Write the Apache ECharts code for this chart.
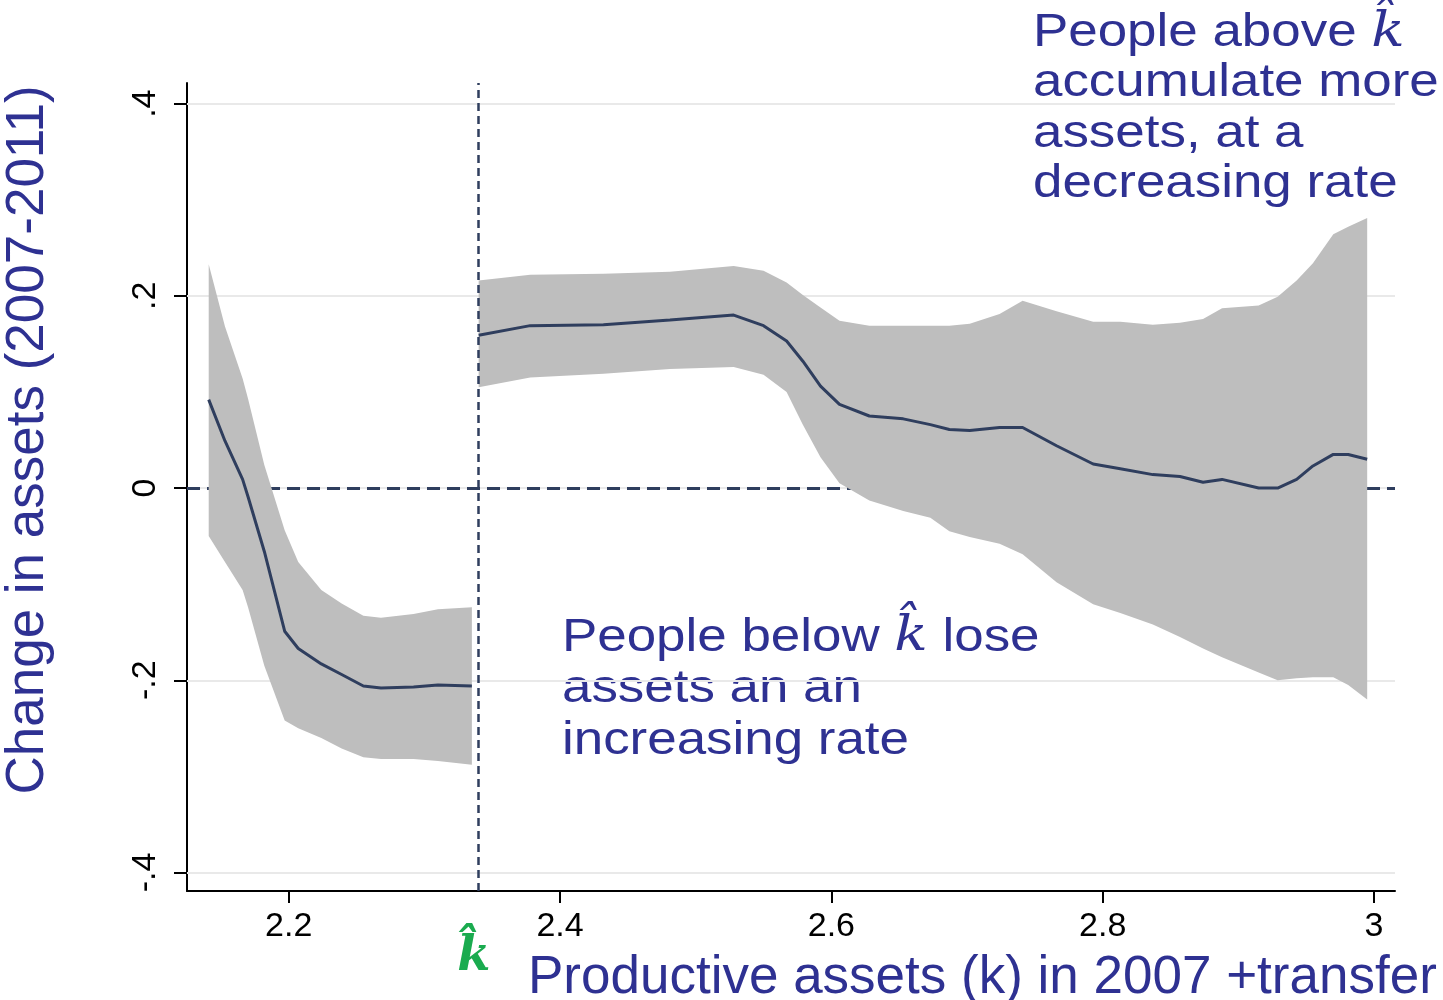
<!DOCTYPE html>
<html>
<head>
<meta charset="utf-8">
<script src="https://cdn.jsdelivr.net/npm/echarts@6/dist/echarts.min.js"></script>
<style>
  html, body { margin: 0; padding: 0; background: #fff; }
  #chart { width: 1443px; height: 1000px; }
</style>
</head>
<body>
<div id="chart"></div>
<script>
  // axis ticks
  var xTicks = [2.2, 2.4, 2.6, 2.8, 3];
  var xTickLabels = ['2.2', '2.4', '2.6', '2.8', '3'];
  var yTicks = [-0.4, -0.2, 0, 0.2, 0.4];
  var yTickLabels = ['-.4', '-.2', '0', '.2', '.4'];
  var kHat = 2.34;

  // below k-hat: local fit and confidence band
  var leftK   = [2.141, 2.153, 2.166, 2.170, 2.182, 2.197, 2.207, 2.224, 2.239, 2.255, 2.268, 2.292, 2.310, 2.335];
  var leftFit = [0.092, 0.049, 0.009, -0.009, -0.066, -0.149, -0.167, -0.183, -0.194, -0.206, -0.208, -0.207, -0.205, -0.206];
  var leftHi  = [0.233, 0.168, 0.114, 0.093, 0.024, -0.044, -0.077, -0.106, -0.120, -0.133, -0.135, -0.131, -0.126, -0.124];
  var leftLo  = [-0.050, -0.077, -0.106, -0.124, -0.185, -0.242, -0.250, -0.260, -0.271, -0.280, -0.282, -0.282, -0.284, -0.288];

  // above k-hat
  var rightK   = [2.340, 2.378, 2.432, 2.481, 2.528, 2.550, 2.567, 2.579, 2.592, 2.606, 2.628, 2.653, 2.673, 2.687, 2.702, 2.724,
                  2.741, 2.766, 2.793, 2.813, 2.837, 2.857, 2.874, 2.888, 2.915, 2.929, 2.943, 2.955, 2.970, 2.981, 2.995];
  var rightFit = [0.159, 0.169, 0.170, 0.175, 0.180, 0.169, 0.153, 0.132, 0.106, 0.087, 0.075, 0.072, 0.066, 0.061, 0.060, 0.063,
                  0.063, 0.044, 0.025, 0.020, 0.014, 0.012, 0.006, 0.009, 0.000, 0.000, 0.009, 0.023, 0.035, 0.035, 0.030];
  var rightLo  = [0.105, 0.115, 0.119, 0.124, 0.126, 0.118, 0.100, 0.066, 0.032, 0.005, -0.013, -0.024, -0.031, -0.045, -0.051, -0.058,
                  -0.069, -0.098, -0.121, -0.130, -0.142, -0.155, -0.167, -0.176, -0.192, -0.200, -0.198, -0.197, -0.197, -0.205, -0.220];
  var rightHi  = [0.216, 0.222, 0.223, 0.225, 0.231, 0.226, 0.214, 0.201, 0.188, 0.174, 0.169, 0.169, 0.169, 0.169, 0.171, 0.181,
                  0.195, 0.184, 0.173, 0.173, 0.170, 0.172, 0.176, 0.187, 0.190, 0.199, 0.216, 0.234, 0.264, 0.272, 0.281];

  var blue = '#2e3192';
  var navy = '#2f3e5e';
  var sans = '"Liberation Sans", Arial, sans-serif';

  function bandSeries (ks, lo, hi) {
    return {
      type: 'custom',
      silent: true,
      z: 3,
      data: [[ks[0], lo[0]]],
      encode: { x: 0, y: 1 },
      renderItem: function (params, api) {
        var top = ks.map(function (k, i) { return api.coord([k, hi[i]]) })
        var bottom = ks.map(function (k, i) { return api.coord([k, lo[i]]) }).reverse()
        return { type: 'polygon', shape: { points: top.concat(bottom) }, style: { fill: '#bebebe' } }
      }
    }
  }

  function fitSeries (ks, fit) {
    return {
      type: 'line',
      silent: true,
      z: 4,
      symbol: 'none',
      data: ks.map(function (k, i) { return [k, fit[i]] }),
      lineStyle: { color: navy, width: 3 }
    }
  }

  function ruleSeries (data, style, z) {
    return {
      type: 'line',
      silent: true,
      z: z,
      data: [],
      markLine: {
        silent: true,
        z: z,
        symbol: ['none', 'none'],
        animation: false,
        label: { show: false },
        lineStyle: style,
        data: data
      }
    }
  }

  var chart = echarts.init(document.getElementById('chart'))
  var option = {
    backgroundColor: '#fff',
    animation: false,
    grid: { left: 187, right: 48, top: 83, bottom: 109 },
    xAxis: {
      type: 'value',
      min: 2.125,
      max: 3.0155,
      axisLine: { show: true, onZero: false, lineStyle: { color: '#000', width: 2 } },
      axisTick: { show: true, length: 12, customValues: xTicks, lineStyle: { color: '#000', width: 2 } },
      axisLabel: {
        customValues: xTicks,
        color: '#000', fontSize: 34, fontFamily: sans, margin: 19,
        formatter: function (v) { var i = xTicks.indexOf(v); return i >= 0 ? xTickLabels[i] : '' }
      },
      splitLine: { show: false }
    },
    yAxis: {
      type: 'value',
      min: -0.4193,
      max: 0.4215,
      axisLine: { show: true, onZero: false, lineStyle: { color: '#000', width: 2 } },
      axisTick: { show: true, length: 13, customValues: yTicks, lineStyle: { color: '#000', width: 2 } },
      axisLabel: {
        customValues: yTicks,
        rotate: 90,
        color: '#000', fontSize: 34, fontFamily: sans, margin: 24,
        formatter: function (v) { var i = yTicks.indexOf(v); return i >= 0 ? yTickLabels[i] : '' }
      },
      splitLine: { show: false }
    },
    series: [
      ruleSeries(yTicks.map(function (v) { return { yAxis: v } }), { color: '#e9e9e9', width: 2, type: 'solid' }, 1),
      ruleSeries([{ yAxis: 0 }], { color: navy, width: 3, type: [13, 7] }, 2),
      bandSeries(leftK, leftLo, leftHi),
      bandSeries(rightK, rightLo, rightHi),
      fitSeries(leftK, leftFit),
      fitSeries(rightK, rightFit),
      ruleSeries([{ xAxis: kHat }], { color: navy, width: 2.5, type: [8, 5] }, 6)
    ],
    graphic: [
      {
        type: 'text', x: 28, y: 440, rotation: Math.PI / 2,
        style: {
          text: 'Change in assets (2007-2011)', font: '53px ' + sans, fill: blue,
          align: 'center', verticalAlign: 'middle', textAlign: 'center', textVerticalAlign: 'middle'
        }
      },
      {
        type: 'text', x: 528, y: 978,
        style: {
          text: 'Productive assets (k) in 2007 +transfer', font: '53px ' + sans, fill: blue,
          align: 'left', verticalAlign: 'middle', textAlign: 'left', textVerticalAlign: 'middle'
        }
      },
      {
        type: 'text', x: 474, y: 958,
        style: {
          text: 'k\u0302', font: 'italic bold 48px "DejaVu Serif", serif', fill: '#1aab4f',
          align: 'center', verticalAlign: 'middle', textAlign: 'center', textVerticalAlign: 'middle'
        }
      },
      {
        type: 'text', x: 562, y: 612, scaleX: 1.15,
        style: {
          text: '{n|People below }{k|k\u0302}{n| lose}\n{n|assets an an}\n{n|increasing rate}',
          fill: blue, align: 'left', verticalAlign: 'top',
          rich: {
            n: { font: '46px ' + sans, fill: blue, lineHeight: 51.7 },
            k: { font: 'italic 48px "DejaVu Serif", serif', fill: blue, lineHeight: 51.7 }
          }
        }
      },
      {
        type: 'text', x: 1033, y: 8, scaleX: 1.15,
        style: {
          text: '{n|People above }{k|k\u0302}\n{n|accumulate more}\n{n|assets, at a}\n{n|decreasing rate}',
          fill: blue, align: 'left', verticalAlign: 'top',
          rich: {
            n: { font: '46px ' + sans, fill: blue, lineHeight: 50.5 },
            k: { font: 'italic 48px "DejaVu Serif", serif', fill: blue, lineHeight: 50.5 }
          }
        }
      }
    ]
  }
  chart.setOption(option)
  window.addEventListener('resize', function () { chart.resize() })
</script>
</body>
</html>
